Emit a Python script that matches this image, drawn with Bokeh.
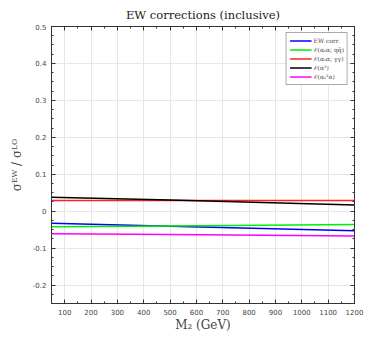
from bokeh.plotting import figure
from bokeh.models import (Range1d, LinearAxis, Legend, LegendItem, SingleIntervalTicker,
                          CustomJSTickFormatter)
from bokeh.embed import file_html
from bokeh.resources import INLINE

# data
m2 = [50, 500, 1200]
ew_corr = [-0.033, -0.041, -0.053]
as_a_qq = [-0.042, -0.040, -0.036]
as_a_gg = [0.029, 0.029, 0.029]
a3 = [0.038, 0.030, 0.017]
as2_a = [-0.061, -0.063, -0.067]

series = [
    ("EW corr.", ew_corr, "#0000ff"),
    ("𝒪(αₛα; qq̄)", as_a_qq, "#00ee00"),
    ("𝒪(αₛα; γγ)", as_a_gg, "#ff2020"),
    ("𝒪(α³)", a3, "#000000"),
    ("𝒪(αₛ²α)", as2_a, "#ff00ff"),
]

p = figure(width=392, height=343, output_backend="svg", toolbar_location=None,
           x_range=Range1d(50, 1200), y_range=Range1d(-0.25, 0.5),
           min_border_left=51, min_border_right=38, min_border_top=26, min_border_bottom=40)
p.title.text = "EW corrections (inclusive)"
p.title.align = "center"
p.title.text_font = "DejaVu Serif"
p.title.text_font_style = "normal"
p.title.text_font_size = "11.5px"
p.title.text_color = "#222222"
p.title.offset = 0
p.title.standoff = 9

p.background_fill_color = "white"
p.border_fill_color = "white"
p.outline_line_color = "#333333"

fmt_y = CustomJSTickFormatter(code="const v = Math.round(tick*10)/10; return v === 0 ? '0' : v.toString();")
fmt_x = CustomJSTickFormatter(code="return Math.round(tick).toString();")
fmt_none = CustomJSTickFormatter(code="return '';")

xt = SingleIntervalTicker(interval=100, num_minor_ticks=2)
yt = SingleIntervalTicker(interval=0.1, num_minor_ticks=4)

def style(ax, labels=True):
    ax.axis_line_color = "#333333"
    ax.major_tick_line_color = "#333333"
    ax.minor_tick_line_color = "#333333"
    ax.major_tick_in = 4
    ax.major_tick_out = 0
    ax.minor_tick_in = 2
    ax.minor_tick_out = 0
    if labels:
        ax.major_label_text_font = "DejaVu Sans"
        ax.major_label_text_font_size = "7px"
        ax.major_label_text_color = "#444444"
        ax.major_label_standoff = 5
    else:
        ax.formatter = fmt_none
        ax.major_label_standoff = 0

p.xaxis.ticker = xt
p.yaxis.ticker = yt
p.xaxis.formatter = fmt_x
p.yaxis.formatter = fmt_y
style(p.xaxis[0])
style(p.yaxis[0])
p.xaxis.axis_label = "M₂ (GeV)"
p.xaxis.axis_label_text_font = "DejaVu Serif"
p.xaxis.axis_label_text_font_style = "normal"
p.xaxis.axis_label_text_font_size = "12px"
p.xaxis.axis_label_standoff = 0
p.yaxis.axis_label = "σᴱᵂ / σᴸᴼ"
p.yaxis.axis_label_text_font = "DejaVu Serif"
p.yaxis.axis_label_text_font_style = "normal"
p.yaxis.axis_label_text_font_size = "12px"
p.yaxis.axis_label_standoff = 6

top = LinearAxis(ticker=SingleIntervalTicker(interval=100, num_minor_ticks=2))
style(top, labels=False)
right = LinearAxis(ticker=SingleIntervalTicker(interval=0.1, num_minor_ticks=4))
style(right, labels=False)
p.add_layout(top, "above")
p.add_layout(right, "right")

p.xgrid.ticker = xt
p.ygrid.ticker = yt
p.xgrid.grid_line_color = "#e6e6e6"
p.ygrid.grid_line_color = "#e6e6e6"

items = []
for name, ys, col in series:
    r = p.line(m2, ys, line_color=col, line_width=1.5)
    items.append(LegendItem(label=name, renderers=[r]))

legend = Legend(items=items, location="top_right")
legend.margin = 6
legend.padding = 3
legend.spacing = 0
legend.glyph_height = 9
legend.glyph_width = 22
legend.label_height = 9
legend.label_standoff = 2
legend.label_text_font = "DejaVu Serif"
legend.label_text_font_size = "6px"
legend.border_line_color = "#555555"
legend.border_line_width = 1
legend.background_fill_alpha = 1
p.add_layout(legend)

open("out.html", "w").write(file_html(p, INLINE))
